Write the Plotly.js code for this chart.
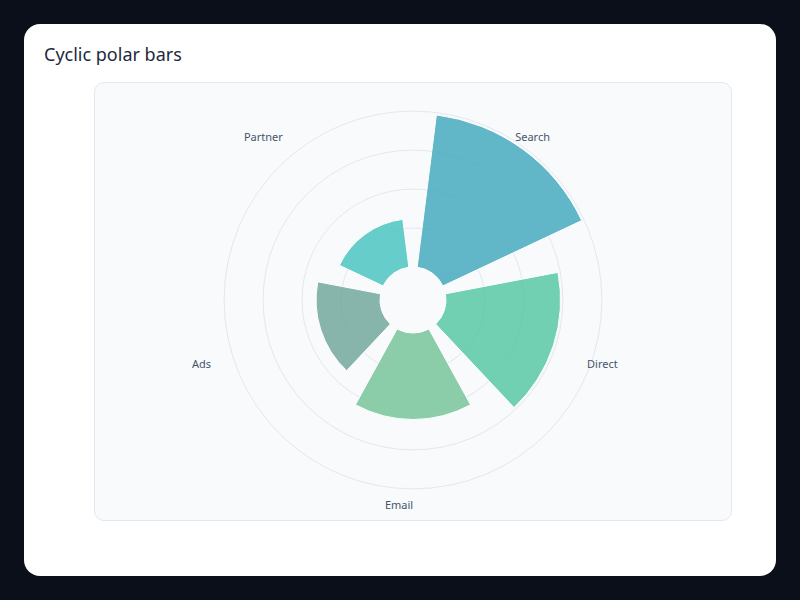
<!DOCTYPE html>
<html>
<head>
<meta charset="utf-8">
<script src="https://cdn.plot.ly/plotly-3.0.1.min.js"></script>
<style>
  html, body { margin: 0; padding: 0; width: 800px; height: 600px; background: #0b0f1a; overflow: hidden; }
  #card { position: absolute; left: 24px; top: 24px; width: 752px; height: 552px; background: #ffffff; border-radius: 16px; overflow: hidden; }
  #panel { position: absolute; left: 70px; top: 58px; width: 638px; height: 439px; box-sizing: border-box; background: #f8fafc; border: 1px solid #e2e8f0; border-radius: 10px; }
  #chart { position: absolute; left: 0; top: 0; width: 752px; height: 552px; }
</style>
</head>
<body>
<div id="card">
  <div id="panel"></div>
  <div id="chart"></div>
</div>
<script>
const categories = ['Search', 'Direct', 'Email', 'Ads', 'Partner'];
const values = [98.5, 73.5, 55.5, 41, 31];
const colors = ['#47aabe', '#5ac7a5', '#79c59b', '#74a99d', '#4dc5c2'];
const gridValues = [25, 50, 75, 100];

const FONT = 'Noto Sans, Open Sans, sans-serif';

const bars = {
  type: 'barpolar',
  subplot: 'polar',
  theta: categories,
  r: values,
  marker: { color: colors, opacity: 0.85, line: { color: '#ffffff', width: 1 } },
  hoverinfo: 'theta+r',
  showlegend: false
};

// invisible copy on a label-only polar subplot that carries the category labels
const labelCarrier = {
  type: 'barpolar',
  subplot: 'polar2',
  theta: categories,
  r: values,
  marker: { color: colors, opacity: 0 },
  hoverinfo: 'skip',
  showlegend: false
};

const commonAngular = {
  type: 'category',
  categoryorder: 'array',
  categoryarray: categories,
  direction: 'clockwise',
  rotation: 54,
  showgrid: false,
  showline: false
};

const layout = {
  width: 752,
  height: 552,
  paper_bgcolor: 'rgba(0,0,0,0)',
  plot_bgcolor: 'rgba(0,0,0,0)',
  margin: { l: 126, r: 100, t: 84, b: 84 },
  title: {
    text: 'Cyclic polar bars',
    x: 20 / 752, xref: 'container', xanchor: 'left',
    y: 1 - 31 / 552, yref: 'container', yanchor: 'middle',
    font: { family: FONT, size: 18, color: '#1e293b' }
  },
  font: { family: FONT, color: '#475569' },
  polar: {
    bgcolor: 'rgba(0,0,0,0)',
    hole: 0.172,
    bargap: 0.2,
    domain: { x: [0, 1], y: [0, 1] },
    radialaxis: {
      range: [0, 102],
      tickvals: gridValues,
      showticklabels: false,
      ticks: '',
      showline: false,
      gridcolor: '#e2e8f0',
      gridwidth: 1
    },
    angularaxis: Object.assign({}, commonAngular, {
      showticklabels: false,
      ticks: ''
    })
  },
  polar2: {
    bgcolor: 'rgba(0,0,0,0)',
    hole: 0.172,
    bargap: 0.2,
    domain: { x: [0, 0.9468], y: [0, 1] },
    radialaxis: { range: [0, 102], visible: false },
    angularaxis: Object.assign({}, commonAngular, {
      showticklabels: true,
      ticks: 'outside',
      ticklen: 3,
      tickcolor: 'rgba(0,0,0,0)',
      tickfont: { family: FONT, size: 11, color: '#475569' }
    })
  }
};

Plotly.newPlot('chart', [bars, labelCarrier], layout, { displayModeBar: false, staticPlot: true });
</script>
</body>
</html>
